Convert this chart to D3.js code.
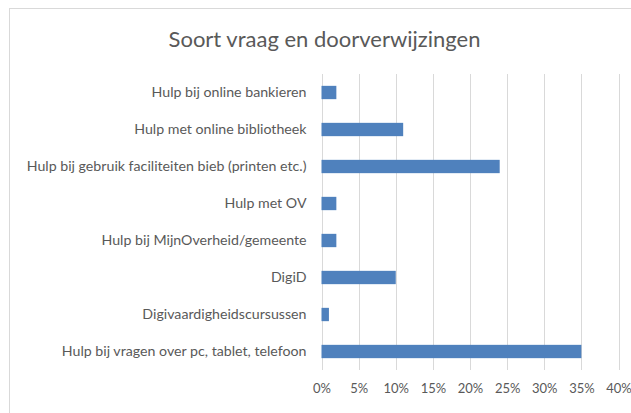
<!DOCTYPE html>
<html>
<head>
<meta charset="utf-8">
<script src="https://cdn.jsdelivr.net/npm/d3@7"></script>
<style>
  body { margin: 0; background: #fff; }
  text { font-family: Lato, "Open Sans", sans-serif; fill: #595959; }
</style>
</head>
<body>
<div class="svg-container"></div>
<script>
const categories = [
  'Hulp bij online bankieren',
  'Hulp met online bibliotheek',
  'Hulp bij gebruik faciliteiten bieb (printen etc.)',
  'Hulp met OV',
  'Hulp bij MijnOverheid/gemeente',
  'DigiD',
  'Digivaardigheidscursussen',
  'Hulp bij vragen over pc, tablet, telefoon'
];
const values = [0.02, 0.11, 0.24, 0.02, 0.02, 0.10, 0.01, 0.35];
const ticks = [0, 0.05, 0.10, 0.15, 0.20, 0.25, 0.30, 0.35, 0.40];

const width = 631;
const height = 413;
const margin = {top: 74, right: 12, bottom: 43, left: 321.5};

const svg = d3.select('.svg-container')
  .append('svg')
  .attr('width', width)
  .attr('height', height);

// chart area border (right and bottom fall outside the picture)
svg.append('rect')
  .attr('x', 9.5)
  .attr('y', 8.5)
  .attr('width', 640)
  .attr('height', 420)
  .attr('fill', 'none')
  .attr('stroke', '#d9d9d9');

svg.append('text')
  .attr('x', 324.5)
  .attr('y', 47)
  .attr('text-anchor', 'middle')
  .attr('font-size', '22px')
  .text('Soort vraag en doorverwijzingen');

const x = d3.scaleLinear()
  .domain([0, 0.40])
  .range([margin.left, 618.5]);

const y = d3.scaleBand()
  .domain(categories)
  .range([margin.top, 370])
  .paddingInner(0.64)
  .paddingOuter(0.32);

// gridlines
svg.append('g')
  .selectAll('line')
  .data(ticks)
  .enter().append('line')
  .attr('x1', d => Math.round(x(d)) + 0.5)
  .attr('x2', d => Math.round(x(d)) + 0.5)
  .attr('y1', margin.top)
  .attr('y2', 370)
  .attr('stroke', '#d9d9d9')
  .attr('stroke-width', 1);

// x axis labels
const xAxis = d3.axisBottom(x)
  .tickValues(ticks)
  .tickFormat(d3.format('.0%'))
  .tickSize(0)
  .tickPadding(0);

const gx = svg.append('g')
  .attr('transform', 'translate(0, 384)')
  .call(xAxis);
gx.select('.domain').remove();
gx.selectAll('text')
  .attr('font-size', '13px')
  .attr('font-family', null)
  .attr('fill', '#595959');

// y axis labels
const yAxis = d3.axisLeft(y).tickSize(0).tickPadding(15);
const gy = svg.append('g')
  .attr('transform', `translate(${margin.left}, 0)`)
  .call(yAxis);
gy.select('.domain').remove();
gy.selectAll('text')
  .attr('font-size', '14.2px')
  .attr('font-family', null)
  .attr('fill', '#595959');

// bars
svg.append('g')
  .selectAll('rect')
  .data(values)
  .enter().append('rect')
  .attr('x', x(0))
  .attr('y', (d, i) => y(categories[i]))
  .attr('width', d => x(d) - x(0))
  .attr('height', y.bandwidth())
  .attr('fill', '#4f81bd');
</script>
</body>
</html>
